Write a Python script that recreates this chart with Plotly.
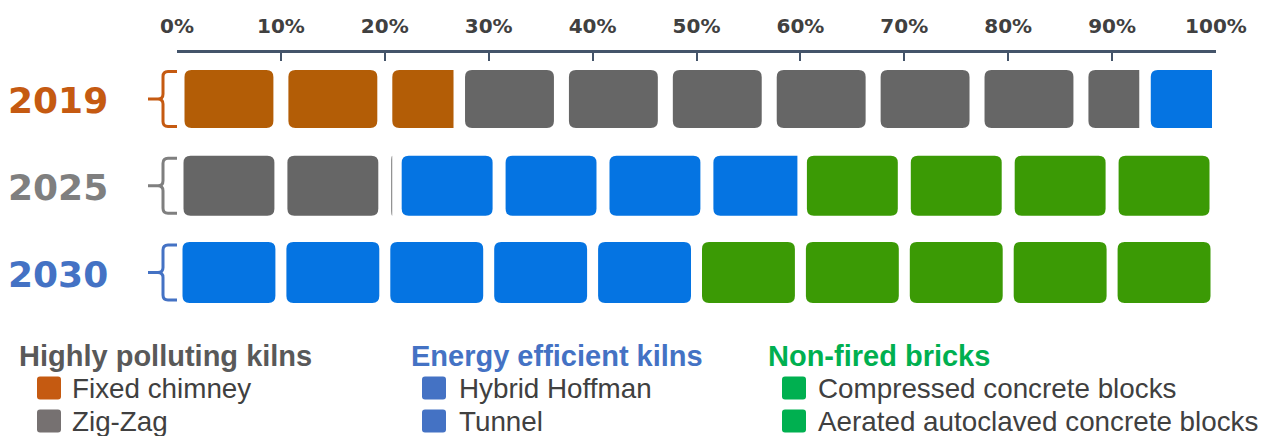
import plotly.graph_objects as go

# ---------------- data ----------------
rows = ["2019", "2025", "2030"]
row_colors = ["#C55A11", "#7F7F7F", "#4472C4"]

# share of production (%) per row, each brick = 10 %
fixed_chimney = [27, 0, 0]
zig_zag = [66, 21, 0]
energy_efficient = [7, 39, 50]      # Hybrid Hoffman + Tunnel
non_fired = [0, 40, 50]             # Compressed + Aerated autoclaved blocks
brick_size = 10

x_ticks = [0, 10, 20, 30, 40, 50, 60, 70, 80, 90, 100]
x_tick_labels = ["0%", "10%", "20%", "30%", "40%", "50%", "60%", "70%", "80%", "90%", "100%"]

series = [
    ("Fixed chimney", fixed_chimney, "#B35D06"),
    ("Zig-Zag", zig_zag, "#666666"),
    ("Energy efficient", energy_efficient, "#0574E2"),
    ("Non-fired", non_fired, "#3B9A05"),
]

legend_groups = [
    ("Highly polluting kilns", "#595959",
     [("Fixed chimney", "#C55A11"), ("Zig-Zag", "#767171")]),
    ("Energy efficient kilns", "#4472C4",
     [("Hybrid Hoffman", "#4472C4"), ("Tunnel", "#4472C4")]),
    ("Non-fired bricks", "#00B050",
     [("Compressed concrete blocks", "#00B050"),
      ("Aerated autoclaved concrete blocks", "#00B050")]),
]

# ---------------- layout geometry ----------------
W, H = 1266, 436
ML, MR, MT, MB = 177, 50, 53, 106
PW, PH = W - ML - MR, H - MT - MB
PX_PER_PCT = PW / 100.0
PX_PER_ROW = 86.75
Y_TOP = -46 / PX_PER_ROW
Y_BOT = Y_TOP + PH / PX_PER_ROW

row_inset_px = [7.5, 6.5, 5.5]     # gap on each side of a brick
row_half_px = [29, 30, 30.5]       # half brick height
trunc_inset_px = [4, 3, 3]
corner_px = 7


def px_x(px):
    return (px - ML) / PW


def px_y(py):
    return 1 - (py - MT) / PH


def row_center_px(r):
    return MT + (r - Y_TOP) * PX_PER_ROW


def brick_path(x0, x1, y0, y1, rx, ry, square_right):
    rx = min(rx, (x1 - x0) if square_right else (x1 - x0) / 2)
    p = f"M {x0 + rx},{y0} "
    if square_right:
        p += f"L {x1},{y0} L {x1},{y1} "
    else:
        p += (f"L {x1 - rx},{y0} Q {x1},{y0} {x1},{y0 + ry} "
              f"L {x1},{y1 - ry} Q {x1},{y1} {x1 - rx},{y1} ")
    p += (f"L {x0 + rx},{y1} Q {x0},{y1} {x0},{y1 - ry} "
          f"L {x0},{y0 + ry} Q {x0},{y0} {x0 + rx},{y0} Z")
    return p


fig = go.Figure()
fig.add_trace(go.Scatter(x=[None], y=[None], showlegend=False, hoverinfo="skip"))

shapes = []
annotations = []

rx = corner_px / PX_PER_PCT
ry = corner_px / PX_PER_ROW

for r, row in enumerate(rows):
    inset = row_inset_px[r] / PX_PER_PCT
    tinset = trunc_inset_px[r] / PX_PER_PCT
    half = row_half_px[r] / PX_PER_ROW
    start = 0.0
    for name, vals, color in series:
        v = vals[r]
        if v <= 0:
            continue
        seg_end = start + v
        k = 0
        while start + k * brick_size < seg_end - 1e-9:
            b0 = start + k * brick_size
            b1 = min(b0 + brick_size, seg_end)
            truncated = b1 < b0 + brick_size - 1e-9
            x0 = b0 + inset
            x1 = b1 - (tinset if truncated else inset)
            if x1 > x0:
                shapes.append(dict(
                    type="path", xref="x", yref="y",
                    path=brick_path(x0, x1, r - half, r + half, rx, ry, truncated),
                    fillcolor=color, line=dict(width=0), layer="above"))
            k += 1
        start = seg_end

    # year label
    annotations.append(dict(
        text=f"<b>{row}</b>", xref="paper", yref="y", x=px_x(110), y=r + 0.02,
        xanchor="right", yanchor="middle", showarrow=False,
        font=dict(family="DejaVu Sans", size=36, color=row_colors[r])))

    # curly brace
    cy = row_center_px(r)
    top, bot = cy - 27.5, cy + 27.5
    pts = [("M", 177, top), ("L", 168, top), ("Q", 163, top, 163, top + 5),
           ("L", 163, cy - 5), ("Q", 163, cy, 158, cy), ("L", 148, cy),
           ("L", 158, cy), ("Q", 163, cy, 163, cy + 5), ("L", 163, bot - 5),
           ("Q", 163, bot, 168, bot), ("L", 177, bot)]
    path = ""
    for p in pts:
        cmd = p[0]
        coords = p[1:]
        seg = cmd + " " + " ".join(
            f"{px_x(coords[i])},{px_y(coords[i + 1])}" for i in range(0, len(coords), 2))
        path += seg + " "
    shapes.append(dict(type="path", xref="paper", yref="paper", path=path.strip(),
                       line=dict(color=row_colors[r], width=3)))

# ---------------- legend (custom) ----------------
group_x = [17, 409, 766]
swatch_x = [37, 422, 782]
text_x = [70, 457, 816]
title_y = 356
item_y = [388, 421]
for g, (title, tcolor, items) in enumerate(legend_groups):
    annotations.append(dict(
        text=f"<b>{title}</b>", xref="paper", yref="paper",
        x=px_x(group_x[g]), y=px_y(title_y), xanchor="left", yanchor="middle",
        showarrow=False, font=dict(family="Liberation Sans", size=29, color=tcolor)))
    for i, (label, scolor) in enumerate(items):
        cy = item_y[i]
        sx0, sx1 = swatch_x[g], swatch_x[g] + 24
        sy0, sy1 = cy - 11.5, cy + 11.5
        shapes.append(dict(
            type="path", xref="paper", yref="paper",
            path=(f"M {px_x(sx0 + 3)},{px_y(sy0)} L {px_x(sx1 - 3)},{px_y(sy0)} "
                  f"Q {px_x(sx1)},{px_y(sy0)} {px_x(sx1)},{px_y(sy0 + 3)} "
                  f"L {px_x(sx1)},{px_y(sy1 - 3)} Q {px_x(sx1)},{px_y(sy1)} {px_x(sx1 - 3)},{px_y(sy1)} "
                  f"L {px_x(sx0 + 3)},{px_y(sy1)} Q {px_x(sx0)},{px_y(sy1)} {px_x(sx0)},{px_y(sy1 - 3)} "
                  f"L {px_x(sx0)},{px_y(sy0 + 3)} Q {px_x(sx0)},{px_y(sy0)} {px_x(sx0 + 3)},{px_y(sy0)} Z"),
            fillcolor=scolor, line=dict(width=0)))
        annotations.append(dict(
            text=label, xref="paper", yref="paper",
            x=px_x(text_x[g]), y=px_y(cy), xanchor="left", yanchor="middle",
            showarrow=False, font=dict(family="Liberation Sans", size=27.8, color="#404040")))

fig.update_layout(
    width=W, height=H,
    margin=dict(l=ML, r=MR, t=MT, b=MB, pad=0),
    paper_bgcolor="white", plot_bgcolor="white",
    showlegend=False,
    shapes=shapes, annotations=annotations,
    xaxis=dict(range=[0, 100], side="top", tickvals=x_ticks, ticktext=x_tick_labels,
               showline=True, linecolor="#44546A", linewidth=2.5,
               ticks="inside", ticklen=8, tickwidth=2, tickcolor="#44546A",
               showgrid=False, zeroline=False, ticklabelstandoff=9,
               tickfont=dict(family="DejaVu Sans", size=20, color="#404040", weight="bold"),
               fixedrange=True),
    yaxis=dict(range=[Y_BOT, Y_TOP], visible=False, fixedrange=True),
)

fig.write_html("out.html", config={"displayModeBar": False})
